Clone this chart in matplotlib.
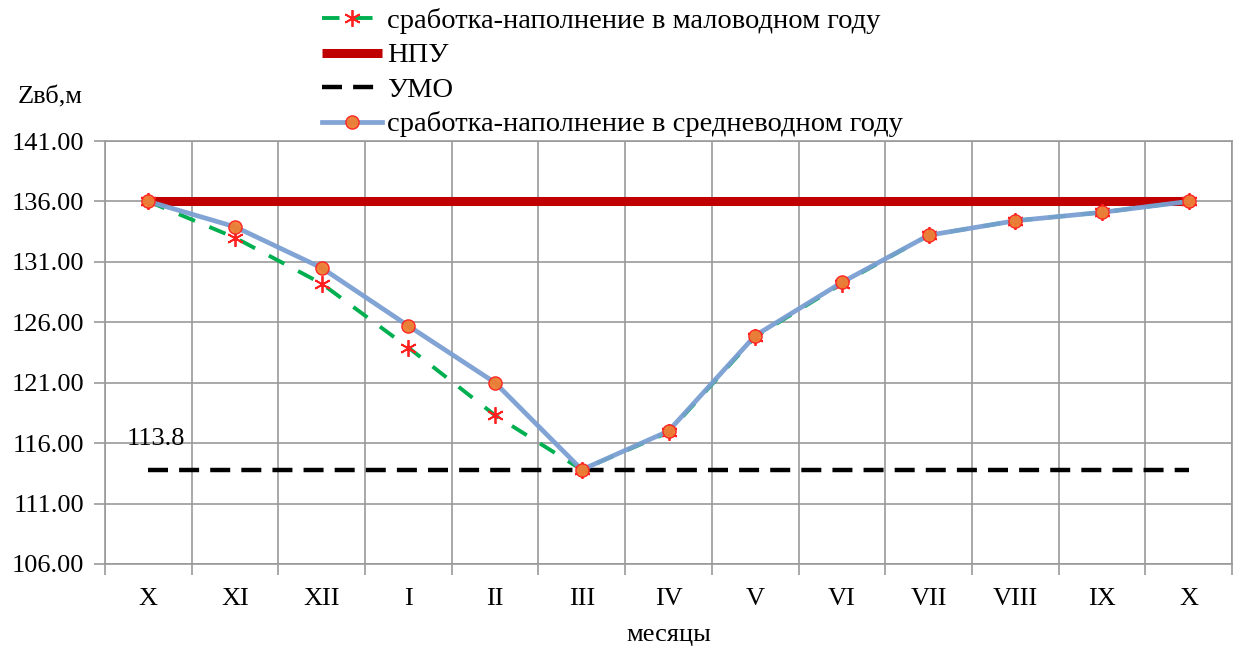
#!/usr/bin/env python3
# Reservoir level drawdown / refill chart (low-water vs mean-water year)

import matplotlib
matplotlib.use("Agg")
import matplotlib.pyplot as plt
from matplotlib.ticker import FixedLocator, FormatStrFormatter

plt.rcParams['font.family'] = ['Liberation Serif', 'DejaVu Serif']
plt.rcParams['font.size'] = 19

##### DATA #############################
months = ["X", "XI", "XII", "I", "II", "III", "IV", "V", "VI", "VII", "VIII", "IX", "X"]
# Level in low-water year [m]
z_low = [136.0, 133.0, 129.2, 123.9, 118.3, 113.8, 116.9, 124.8, 129.2, 133.2, 134.4, 135.1, 136.0]
# Level in mean-water year [m]
z_mid = [136.0, 133.9, 130.5, 125.7, 121.0, 113.8, 117.0, 124.9, 129.3, 133.2, 134.4, 135.1, 136.0]
# Normal headwater level and dead storage level [m]
NPU = 136.0
UMO = 113.8
yticks = [106, 111, 116, 121, 126, 131, 136, 141]

##### PLOT #############################
fig = plt.figure(figsize=(12.41, 6.5), dpi=100)
ax = fig.add_axes([105/1241, 1-564/650, (1232-105)/1241, (564-141)/650])

x = list(range(len(months)))

lns1 = ax.plot(x, z_low, color='#00B050', lw=2.8, dashes=(4.5, 4),
               marker=(6, 2, 0), ms=12, mec='#FF2020', mfc='#FF2020', mew=1.3,
               label='сработка-наполнение в маловодном году', zorder=3)
lns2 = ax.plot([x[0], x[-1]], [NPU, NPU], color='#C00000', lw=6.5,
               solid_capstyle='butt', label='НПУ', zorder=2)
lns3 = ax.plot([x[0], x[-1]], [UMO, UMO], color='black', lw=3.2, dashes=(4.5, 2.5),
               label='УМО', zorder=2)
lns4 = ax.plot(x, z_mid, color='#7A9FD3', lw=3.4, alpha=0.95,
               marker='o', ms=9.5, mfc='#ED7D31', mec='#FF2020', mew=1.0,
               label='сработка-наполнение в средневодном году', zorder=4)

# axes
ax.set_xlim(-0.5, len(months)-0.5)
ax.set_ylim(106, 141)
ax.yaxis.set_major_locator(FixedLocator(yticks))
ax.yaxis.set_major_formatter(FormatStrFormatter('%.2f'))
ax.set_xticks(x)
ax.set_xticklabels(months)
ax.xaxis.set_minor_locator(FixedLocator([i-0.5 for i in range(len(months)+1)]))
ax.tick_params(axis='x', which='major', length=0, pad=17)
ax.tick_params(axis='x', which='minor', length=8, color='#999999', width=1.2)
ax.tick_params(axis='y', which='major', length=8, color='#999999', width=1.2, pad=7)
ax.grid(which='major', axis='y', color='#999999', lw=1.2)
ax.grid(which='minor', axis='x', color='#999999', lw=1.2)
ax.set_axisbelow(True)
for s in ax.spines.values():
    s.set_color('#999999')
    s.set_linewidth(1.2)

ax.set_xlabel('месяцы', labelpad=10)
fig.text(18/1241, 1-97/650, 'Zвб,м', ha='left', va='center')
ax.text(-0.25, UMO+1.6, '113.8', ha='left', va='bottom')

# legend
lns = lns1+lns2+lns3+lns4
labs = [l.get_label() for l in lns]
fig.legend(lns, labs, loc='upper left', bbox_to_anchor=(322/1241, 1-8/650),
           frameon=False, borderpad=0, borderaxespad=0, handlelength=2.1,
           handletextpad=0.2, labelspacing=0.3, numpoints=1, fontsize=20.5)

plt.savefig('out.png', dpi=100)
